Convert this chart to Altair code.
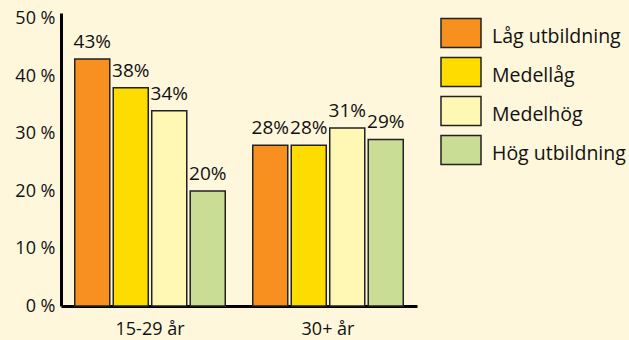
import altair as alt
import pandas as pd

# Share of each education level, by age group
groups = ["15-29 år", "30+ år"]
levels = ["Låg utbildning", "Medellåg", "Medelhög", "Hög utbildning"]
young = [43, 38, 34, 20]
older = [28, 28, 31, 29]
colors = ["#F7901E", "#FFDC00", "#FFF8B5", "#C9DD95"]

rows = []
for g, vals in zip(groups, [young, older]):
    for lvl, v in zip(levels, vals):
        rows.append({"grupp": g, "niva": lvl, "andel": v, "etikett": f"{v}%"})
df = pd.DataFrame(rows)

FONT = "Open Sans"

x = alt.X("grupp:N", sort=groups,
          scale=alt.Scale(paddingInner=0, paddingOuter=0),
          axis=alt.Axis(title=None, labelAngle=0, labelFontSize=18, labelFont=FONT,
                        labelColor="#111", labelPadding=14, ticks=False,
                        domainColor="#000", domainWidth=3))
xoff = alt.XOffset("niva:N", sort=levels,
                   scale=alt.Scale(paddingInner=0.09, paddingOuter=0.357))
y = alt.Y("andel:Q",
          scale=alt.Scale(domain=[0, 51], nice=False),
          axis=alt.Axis(title=None, values=[0, 10, 20, 30, 40, 50],
                        labelExpr="datum.value + ' %'", labelFontSize=18,
                        labelFont=FONT, labelColor="#111", labelPadding=6,
                        ticks=False, grid=False, domainColor="#000", domainWidth=3))

# rectangular swatch, drawn a little above the label's middle
swatch = "M-1,-0.92L1,-0.92L1,0.52L-1,0.52Z"

bars = alt.Chart(df).mark_bar(stroke="#222", strokeWidth=1.5).encode(
    x=x, xOffset=xoff, y=y,
    color=alt.Color("niva:N", sort=levels,
                    scale=alt.Scale(domain=levels, range=colors),
                    legend=alt.Legend(
                        title=None, orient="none", legendX=379, legendY=3,
                        symbolType=swatch,
                        symbolSize=1600, symbolStrokeColor="#222",
                        symbolStrokeWidth=1.5, symbolOpacity=1,
                        labelFontSize=19.5, labelFont=FONT, labelColor="#111",
                        labelOffset=10, rowPadding=3, padding=0)),
)

labels = alt.Chart(df).mark_text(
    baseline="alphabetic", dy=-11, fontSize=19, font=FONT, color="#111"
).encode(x=x, xOffset=xoff, y=y, text="etikett:N")

chart = (bars + labels).properties(
    width=356, height=293,
    background="#FEF7DC",
    padding={"left": 61, "top": 13, "right": 212, "bottom": 34},
    autosize=alt.AutoSizeParams(type="none"),
).configure_view(stroke=None)

chart.save("out.html", embed_options={"renderer": "svg", "actions": False})
